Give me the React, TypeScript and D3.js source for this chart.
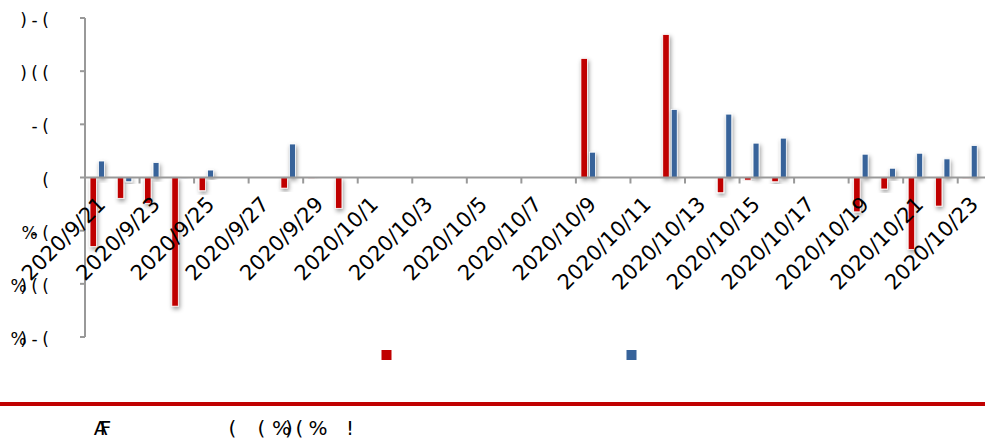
import React from 'react';
import * as d3 from 'd3';

const dates = [
  '2020/9/21', '2020/9/22', '2020/9/23', '2020/9/24', '2020/9/25', '2020/9/26', '2020/9/27',
  '2020/9/28', '2020/9/29', '2020/9/30', '2020/10/1', '2020/10/2', '2020/10/3', '2020/10/4',
  '2020/10/5', '2020/10/6', '2020/10/7', '2020/10/8', '2020/10/9', '2020/10/10', '2020/10/11',
  '2020/10/12', '2020/10/13', '2020/10/14', '2020/10/15', '2020/10/16', '2020/10/17', '2020/10/18',
  '2020/10/19', '2020/10/20', '2020/10/21', '2020/10/22', '2020/10/23',
];

const redSeries: (number | null)[] = [
  -65, -19.6, -24.3, -121, -12.4, null, null,
  -10, -1, -29, null, null, null, null,
  null, null, null, null, 112, null, null,
  134.5, null, -14.3, -2.5, -4, null, null,
  -32.3, -10.8, -67.7, -26.9, -1,
];

const blueSeries: (number | null)[] = [
  15.5, -4, 14, -1, 7, null, null,
  31.5, 0, null, null, null, null, null,
  null, null, null, null, 23.8, null, null,
  64, null, 59.6, 32.3, 37, null, null,
  21.9, 8.7, 22.8, 17.5, 30,
];

const yTickValues = [150, 100, 50, 0, -50, -100, -150];
const yTickLabels = [')-(', ')((', '-(', '(', '%-(', '%)((', '%)-('];

const footerLeftChars = ['A', 'F'];
const footerRightChars = ['(', '(', '%', ')', '(', '%', '!'];

const RED = '#c00000';
const BLUE = '#37639a';

const W = 985;
const H = 448;
const left = 85;
const right = 985;
const top = 18;
const bottom = 337;

export default function App() {
  const x = d3.scaleBand<number>().domain(d3.range(dates.length)).range([left, right]).padding(0);
  const y = d3.scaleLinear().domain([-150, 150]).range([bottom, top]);
  const w = x.bandwidth();
  const y0 = y(0);

  const bars = (vals: (number | null)[], off: number, bw: number, color: string) =>
    vals.map((v, i) => {
      if (v === null) return null;
      const yy = Math.min(y(v), y0);
      const hh = Math.abs(y(v) - y0);
      return (
        <rect key={color + i} x={(x(i) as number) + off} y={yy} width={bw} height={Math.max(hh, 0.01)}
          fill={color} stroke="#fff" strokeWidth={0.8} filter="url(#sh)" />
      );
    });

  const yLabel = (label: string, ty: number, k: number) => {
    const chars = label.split('');
    const centers: number[] = new Array(chars.length);
    let R = 51;
    for (let j = chars.length - 1; j >= 0; j--) {
      if (chars[j] === '%' && j < chars.length - 1) {
        centers[j] = centers[j + 1] - 5;
      } else {
        centers[j] = R - 11 / 2;
        R -= 11;
      }
    }
    return chars.map((c, j) => (
      <text key={k + '-' + j} x={centers[j]} y={ty + 8} textAnchor="middle" fontSize={17}
        fontFamily="DejaVu Sans" fill="#000">{c}</text>
    ));
  };

  const footerRightX = [232.5, 261.5, 281.5, 289, 299.5, 318, 350];
  const footerLeftX = [100.5, 105.5];

  return (
    <svg width={W} height={H} style={{ position: 'absolute', left: 0, top: 0, display: 'block' }}>
      <defs>
        <filter id="sh" x="-150%" y="-30%" width="400%" height="160%">
          <feDropShadow dx="1.2" dy="2.5" stdDeviation="2.2" floodColor="#000" floodOpacity="0.4" />
        </filter>
      </defs>
      <rect x={0} y={0} width={W} height={H} fill="#fff" />

      {/* y axis */}
      <line x1={left} x2={left} y1={top} y2={bottom} stroke="#999" strokeWidth={2} />
      {yTickValues.map((v, k) => (
        <line key={'yt' + k} x1={left - 5} x2={left} y1={y(v)} y2={y(v)} stroke="#999" strokeWidth={2} />
      ))}

      {bars(redSeries, 5, 6.5, RED)}
      {bars(blueSeries, 13.5, 6, BLUE)}

      {/* x axis */}
      <line x1={left} x2={right} y1={y0} y2={y0} stroke="#999" strokeWidth={2} />
      {dates.map((d, i) => (i % 2 === 0 ? (
        <line key={'xt' + i} x1={x(i) as number} x2={x(i) as number} y1={y0} y2={y0 + 6} stroke="#999" strokeWidth={2} />
      ) : null))}

      {yTickValues.map((v, k) => yLabel(yTickLabels[k], y(v), k))}

      {dates.map((d, i) => (i % 2 === 0 ? (
        <text key={'xl' + i} transform={`translate(${(x(i) as number) + w / 2 + 8},${y0 + 28}) rotate(-45)`}
          textAnchor="end" fontSize={21} fontFamily="DejaVu Sans" fill="#000">{d}</text>
      ) : null))}

      {/* legend */}
      <rect x={381.5} y={350} width={10} height={10} fill={RED} />
      <rect x={626.5} y={350} width={10} height={10} fill={BLUE} />

      {/* footer */}
      <rect x={0} y={402} width={W} height={4} fill={RED} />
      {footerLeftChars.map((c, j) => (
        <text key={'fl' + j} x={footerLeftX[j]} y={435} textAnchor="middle" fontSize={20} fontFamily="DejaVu Sans">{c}</text>
      ))}
      {footerRightChars.map((c, j) => (
        <text key={'fr' + j} x={footerRightX[j]} y={435} textAnchor="middle" fontSize={20} fontFamily="DejaVu Sans">{c}</text>
      ))}
    </svg>
  );
}
